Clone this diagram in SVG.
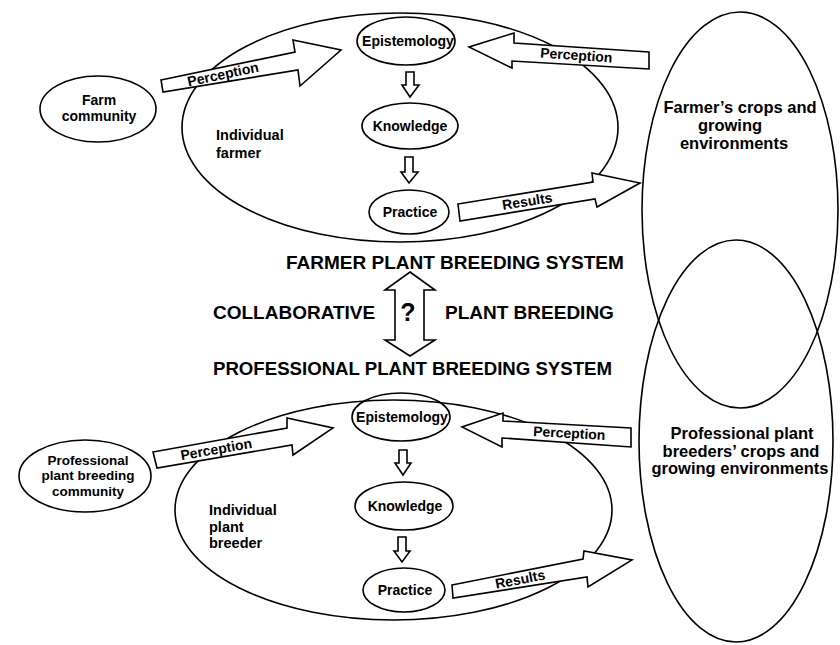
<svg xmlns="http://www.w3.org/2000/svg" width="840" height="645" viewBox="0 0 840 645">
<style>
  .ln{fill:none;stroke:#000;stroke-width:1.6}
  .sh{fill:#fff;stroke:#000;stroke-width:1.6;stroke-linejoin:miter}
  text{font-family:"Liberation Sans",Arial,Helvetica,sans-serif;font-weight:bold;fill:#000}
  .s{font-size:14px;text-anchor:middle}
  .c{font-size:13.5px;text-anchor:middle}
  .l{font-size:14.5px}
  .e{font-size:16.5px;text-anchor:middle}
  .h{font-size:19px}
</style>
<rect width="840" height="645" fill="#fff"/>

<!-- environment ellipses -->
<g id="farmer-env">
  <ellipse class="ln" cx="740" cy="210" rx="98" ry="198"/>
  <text class="e" x="740" y="113">Farmer’s crops and</text>
  <text class="e" x="730" y="131">growing</text>
  <text class="e" x="734" y="149">environments</text>
</g>
<g id="prof-env">
  <ellipse class="ln" cx="736" cy="441" rx="97" ry="201"/>
  <text class="e" x="742" y="439">Professional  plant</text>
  <text class="e" x="741" y="457">breeders’ crops and</text>
  <text class="e" x="740" y="474">growing environments</text>
</g>

<!-- farmer system -->
<g id="individual-farmer">
  <ellipse class="ln" cx="400" cy="127.5" rx="218" ry="114.5"/>
  <text class="l" x="216" y="140">Individual</text>
  <text class="l" x="216" y="158">farmer</text>
</g>
<g id="farm-community">
  <ellipse class="ln" cx="98" cy="109" rx="58" ry="33"/>
  <text class="s" x="99" y="105">Farm</text>
  <text class="s" x="99" y="121">community</text>
</g>
<g id="epistemology-1">
  <ellipse class="ln" cx="406" cy="41" rx="49" ry="24"/>
  <text class="s" x="408" y="46">Epistemology</text>
</g>
<g id="knowledge-1">
  <ellipse class="ln" cx="410" cy="126" rx="48" ry="23"/>
  <text class="s" x="410" y="131">Knowledge</text>
</g>
<g id="practice-1">
  <ellipse class="ln" cx="409" cy="212" rx="40" ry="22"/>
  <text class="s" x="410" y="217">Practice</text>
</g>

<!-- professional system -->
<g id="individual-breeder">
  <ellipse class="ln" cx="393.5" cy="510" rx="218.5" ry="110"/>
  <text class="l" x="209" y="515">Individual</text>
  <text class="l" x="209" y="532">plant</text>
  <text class="l" x="209" y="548">breeder</text>
</g>
<g id="breeding-community">
  <ellipse class="ln" cx="85" cy="476" rx="66" ry="36"/>
  <text class="c" x="88" y="465">Professional</text>
  <text class="c" x="88" y="480">plant breeding</text>
  <text class="c" x="88" y="496">community</text>
</g>
<g id="epistemology-2">
  <ellipse class="ln" cx="401" cy="417" rx="49" ry="24"/>
  <text class="s" x="402" y="422">Epistemology</text>
</g>
<g id="knowledge-2">
  <ellipse class="ln" cx="404" cy="506" rx="49" ry="24"/>
  <text class="s" x="405" y="511">Knowledge</text>
</g>
<g id="practice-2">
  <ellipse class="ln" cx="404" cy="590" rx="41" ry="22"/>
  <text class="s" x="405" y="595">Practice</text>
</g>

<!-- titles -->
<g id="titles">
  <text class="h" x="286" y="269">FARMER PLANT BREEDING SYSTEM</text>
  <text class="h" x="213" y="319">COLLABORATIVE</text>
  <text class="h" x="445" y="319">PLANT BREEDING</text>
  <text class="h" x="213" y="375" textLength="399" lengthAdjust="spacingAndGlyphs">PROFESSIONAL PLANT BREEDING SYSTEM</text>
</g>

<!-- connectors -->
<g id="connectors">
  <!-- small down arrows -->
  <path class="sh" d="M406,72 L414,72 L414,85 L419,85 L410,97 L402,85 L406,85 Z"/>
  <path class="sh" d="M405,157 L413,157 L413,172 L418,172 L409,183 L401,172 L405,172 Z"/>
  <path class="sh" d="M399,450 L407,450 L407,463 L411,463 L403,475 L395,463 L399,463 Z"/>
  <path class="sh" d="M398,537 L406,537 L406,551 L410,551 L402,562 L394,551 L398,551 Z"/>

  <!-- double arrow -->
  <path class="sh" d="M410,272 L435,290 L424,290 L424,340 L435,340 L410,356 L385,340 L395,340 L395,290 L385,290 Z"/>
  <text x="408" y="321" style="font-size:25px;text-anchor:middle">?</text>

  <!-- top: Perception from community -->
  <path class="sh" d="M161,80 L295,52 L293,40 L341,50 L300,86 L298,70 L163,92 Z"/>
  <text class="s" transform="translate(224,79) rotate(-12)">Perception</text>
  <!-- top: Perception from crops -->
  <path class="sh" d="M649,52 L514,43 L514,33 L469,47 L512,68 L512,61 L649,69 Z"/>
  <text class="s" transform="translate(576,60) rotate(4)">Perception</text>
  <!-- top: Results -->
  <path class="sh" d="M458,204 L593,182 L592,173 L640,183 L597,207 L595,199 L460,221 Z"/>
  <text class="s" transform="translate(528,206) rotate(-9)">Results</text>

  <!-- bottom: Perception from community -->
  <path class="sh" d="M153,452 L287,428 L287,418 L333,428 L293,455 L292,445 L157,468 Z"/>
  <text class="s" transform="translate(217,454) rotate(-10)">Perception</text>
  <!-- bottom: Perception from crops -->
  <path class="sh" d="M631,428 L503,421 L503,413 L462,427 L502,447 L502,438 L631,447 Z"/>
  <text class="s" transform="translate(569,438) rotate(3)">Perception</text>
  <!-- bottom: Results -->
  <path class="sh" d="M452,585 L583,559 L584,551 L632,560 L588,587 L587,577 L453,598 Z"/>
  <text class="s" transform="translate(521,584) rotate(-11)">Results</text>
</g>
</svg>
